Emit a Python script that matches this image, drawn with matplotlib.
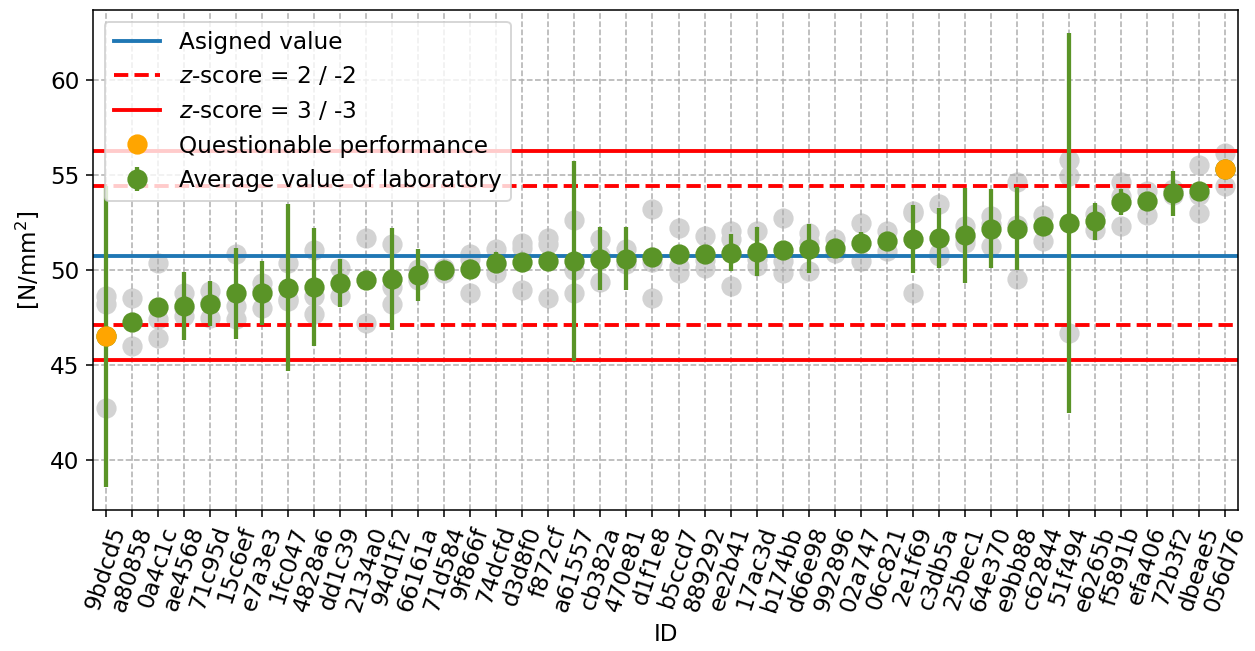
import numpy as np
import matplotlib
matplotlib.use("Agg")
from matplotlib import pyplot as plt

# laboratory IDs, sorted by their average value
lab_ids = ["9bdcd5", "a80858", "0a4c1c", "ae4568", "71c95d", "15c6ef", "e7a3e3", "1fc047",
           "4828a6", "dd1c39", "2134a0", "94d1f2", "66161a", "71d584", "9f866f", "74dcfd",
           "d3d8f0", "f872cf", "a61557", "cb382a", "470e81", "d1f1e8", "b5ccd7", "889292",
           "ee2b41", "17ac3d", "b174bb", "d66e98", "992896", "02a747", "06c821", "2e1f69",
           "c3db5a", "25bec1", "64e370", "e9bb88", "c62844", "51f494", "e6265b", "f5891b",
           "efa406", "72b3f2", "dbeae5", "056d76"]

# average value per laboratory [N/mm2]
lab_means = [46.50, 47.26, 48.03, 48.11, 48.23, 48.77, 48.77, 49.07,
             49.11, 49.33, 49.46, 49.54, 49.74, 49.98, 50.07, 50.39,
             50.42, 50.47, 50.47, 50.60, 50.60, 50.70, 50.82, 50.82,
             50.91, 50.95, 51.04, 51.12, 51.18, 51.44, 51.53, 51.65,
             51.69, 51.82, 52.17, 52.17, 52.31, 52.48, 52.57, 53.59,
             53.62, 54.03, 54.15, 55.32]

# uncertainty of each laboratory average
lab_errors = [7.95, 0.35, 0.35, 1.79, 1.18, 2.39, 1.68, 4.41,
              3.10, 1.27, 0.35, 2.69, 1.38, 0.35, 0.35, 0.56,
              0.35, 0.35, 5.28, 1.68, 1.68, 0.35, 0.35, 0.35,
              0.98, 1.29, 0.35, 1.29, 0.35, 0.56, 0.35, 1.79,
              1.58, 2.50, 2.09, 2.19, 0.35, 10.02, 0.97, 0.69,
              0.35, 1.18, 0.35, 0.35]

# individual results of each laboratory
lab_results = [
    [48.63, 48.19, 42.75], [48.51, 46.00], [50.39, 47.40, 46.44], [48.77, 47.58, 48.00],
    [48.89, 47.49, 48.30], [50.82, 48.11, 47.40], [49.33, 48.02, 48.96], [50.39, 48.37, 48.45],
    [51.05, 48.63, 47.70], [50.09, 48.63], [51.70, 47.19], [51.35, 49.08, 48.19],
    [50.05, 49.45, 49.70], [50.10, 49.85], [50.82, 50.58, 48.81], [51.09, 49.82, 50.30],
    [51.44, 51.18, 48.95], [51.70, 51.35, 48.51], [52.61, 48.81, 49.99], [51.65, 49.37, 50.78],
    [51.10, 50.40, 50.30], [53.19, 48.51, 50.40], [52.23, 50.21, 49.86], [51.79, 50.12, 50.55],
    [52.05, 51.61, 49.16], [52.05, 50.21, 50.59], [52.72, 50.47, 49.86], [51.96, 49.95, 51.45],
    [51.61, 50.91], [52.49, 50.47], [52.05, 51.00], [53.02, 53.10, 48.81],
    [53.45, 50.90, 50.72], [52.34, 51.43, 51.70], [52.83, 51.25, 52.43], [54.62, 49.50, 52.39],
    [52.92, 51.52], [55.82, 54.97, 46.69], [52.96, 52.13], [54.62, 53.89, 52.31],
    [54.15, 52.92], [54.24, 53.97], [55.52, 53.97, 53.01], [56.17, 54.42, 55.30],
]

assigned_value = 50.76
sigma_pt = 1.837

green = "#5a9427"

plt.rcParams["font.family"] = "DejaVu Sans"
fig = plt.figure(figsize=(1255 / 139, 651 / 139), dpi=139)
ax = fig.add_axes([93 / 1255, 1 - 510 / 651, (1238 - 93) / 1255, 500 / 651])

x = np.arange(len(lab_ids))

for i, res in enumerate(lab_results):
    ax.scatter([i] * len(res), res, s=90, color="lightgray", zorder=1)

ax.axhline(assigned_value, color="tab:blue", lw=2, label="Asigned value")
ax.axhline(assigned_value + 2 * sigma_pt, color="red", lw=2, linestyle="--", label="$z$-score = 2 / -2")
ax.axhline(assigned_value - 2 * sigma_pt, color="red", lw=2, linestyle="--")
ax.axhline(assigned_value + 3 * sigma_pt, color="red", lw=2, label="$z$-score = 3 / -3")
ax.axhline(assigned_value - 3 * sigma_pt, color="red", lw=2)

means = np.array(lab_means)
z = (means - assigned_value) / sigma_pt
questionable = (np.abs(z) > 2) & (np.abs(z) <= 3)

ax.errorbar(x, means, yerr=lab_errors, fmt="o", color=green, ms=9.5, elinewidth=2.2,
            capsize=0, label="Average value of laboratory", zorder=3)
ax.plot(x[questionable], means[questionable], "o", color="orange", ms=9.5, linestyle="",
        label="Questionable performance", zorder=4)

ax.set_xlim(-0.5, len(lab_ids) - 0.5)
ax.set_xticks(x)
ax.set_xticklabels(lab_ids, rotation=72, fontsize=12)
ax.tick_params(axis="y", labelsize=12)
ax.set_xlabel("ID", fontsize=12)
ax.set_ylabel("[N/mm$^2$]", fontsize=12)
ax.grid(True, linestyle="--")

handles, labels = ax.get_legend_handles_labels()
order = ["Asigned value", "$z$-score = 2 / -2", "$z$-score = 3 / -3",
         "Questionable performance", "Average value of laboratory"]
hl = dict(zip(labels, handles))
ax.legend([hl[k] for k in order], order, loc="upper left", fontsize=12)

fig.savefig("out.png", dpi=139)
